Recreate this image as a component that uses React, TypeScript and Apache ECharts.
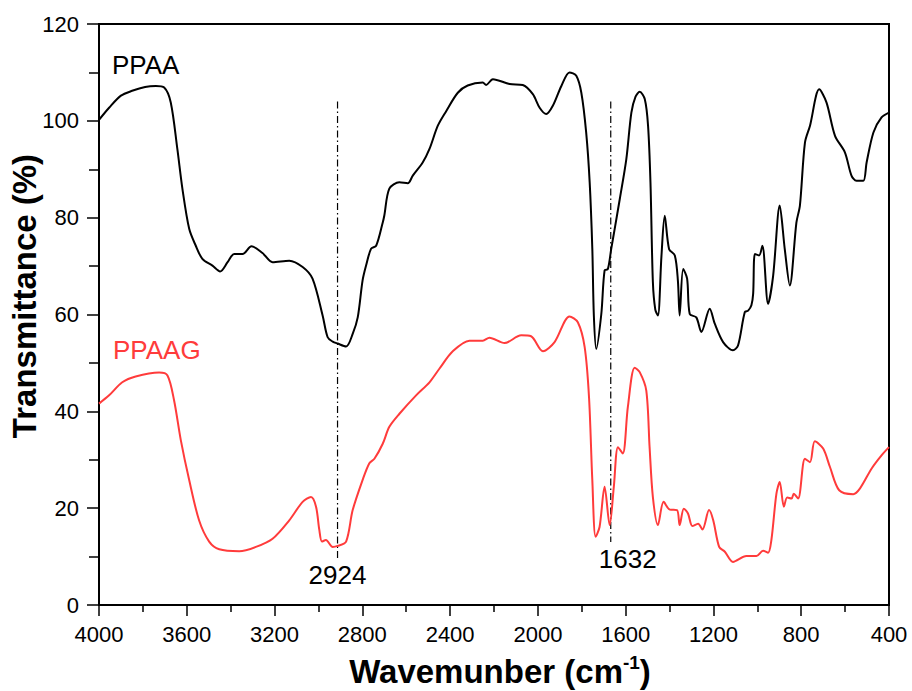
import React, { useEffect, useRef } from "react";
import * as echarts from "echarts";

// PPAA (black) — wavenumber (cm-1) and transmittance (%)
const ppaaWave = [4000, 3954, 3900, 3849, 3790, 3741, 3703, 3673, 3643, 3620, 3589, 3559, 3529, 3483, 3448, 3414, 3384, 3346, 3305, 3255, 3209, 3133, 3072, 3027, 2981, 2958, 2935, 2913, 2874, 2844, 2821, 2799, 2783, 2760, 2737, 2707, 2700, 2677, 2631, 2593, 2570, 2525, 2494, 2456, 2418, 2365, 2320, 2251, 2236, 2205, 2129, 2069, 2023, 1992, 1962, 1932, 1893, 1856, 1825, 1802, 1780, 1764, 1752, 1745, 1734, 1711, 1696, 1681, 1666, 1650, 1627, 1597, 1574, 1555, 1536, 1513, 1498, 1487, 1476, 1465, 1453, 1437, 1422, 1402, 1376, 1362, 1354, 1338, 1320, 1308, 1278, 1255, 1217, 1194, 1156, 1111, 1088, 1057, 1042, 1027, 1019, 1011, 992, 977, 951, 928, 898, 875, 852, 822, 806, 783, 760, 718, 685, 646, 601, 571, 548, 517, 502, 471, 434, 400];
const ppaaT = [100.2, 102.7, 105.2, 106.2, 107.0, 107.2, 106.9, 103.8, 94.2, 86.0, 77.7, 74.2, 71.5, 70.1, 68.9, 70.8, 72.5, 72.5, 74.1, 72.7, 70.8, 71.1, 69.8, 67.4, 59.8, 55.3, 54.4, 54.0, 53.4, 56.0, 59.4, 67.0, 70.1, 73.6, 74.2, 79.0, 80.4, 86.0, 87.3, 87.1, 88.7, 91.4, 94.2, 99.0, 102.0, 105.8, 107.3, 107.9, 107.4, 108.6, 107.6, 107.4, 105.5, 102.7, 101.4, 103.1, 107.2, 110.0, 109.3, 105.8, 97.6, 87.3, 73.6, 59.8, 52.9, 60.1, 69.1, 69.4, 73.5, 77.7, 83.8, 92.1, 101.7, 105.0, 106.0, 104.5, 99.0, 87.3, 66.7, 61.0, 59.8, 72.0, 80.4, 73.5, 72.2, 67.0, 59.8, 69.4, 67.4, 60.1, 59.4, 56.4, 61.2, 58.1, 54.3, 52.6, 53.6, 60.5, 60.8, 61.9, 64.3, 72.5, 72.2, 74.2, 62.2, 68.0, 82.5, 73.5, 66.0, 79.0, 82.5, 95.5, 99.0, 106.5, 103.8, 96.9, 93.5, 88.7, 87.6, 87.6, 91.4, 97.6, 100.7, 101.7];

// PPAAG (red)
const ppaagWave = [4000, 3954, 3894, 3833, 3726, 3688, 3658, 3627, 3589, 3544, 3498, 3452, 3361, 3285, 3209, 3133, 3072, 3034, 3011, 2996, 2984, 2966, 2935, 2913, 2874, 2844, 2799, 2768, 2745, 2707, 2677, 2631, 2555, 2494, 2449, 2388, 2312, 2251, 2221, 2152, 2076, 2031, 1977, 1924, 1856, 1818, 1787, 1767, 1752, 1737, 1719, 1696, 1673, 1654, 1635, 1613, 1590, 1559, 1536, 1506, 1491, 1476, 1453, 1427, 1399, 1366, 1354, 1335, 1316, 1296, 1270, 1250, 1220, 1201, 1174, 1148, 1111, 1050, 1004, 974, 951, 936, 913, 898, 879, 864, 844, 834, 814, 783, 760, 738, 700, 669, 627, 563, 532, 479, 434, 400];
const ppaagT = [41.6, 43.3, 46.0, 47.2, 48.0, 47.4, 42.3, 34.0, 25.8, 17.5, 13.1, 11.5, 11.1, 12.0, 13.7, 17.5, 21.3, 22.3, 20.3, 15.5, 13.1, 13.4, 12.0, 12.2, 13.1, 19.6, 25.8, 29.3, 30.2, 33.3, 36.8, 39.5, 43.3, 46.0, 48.8, 52.4, 54.6, 54.6, 55.2, 54.1, 55.7, 55.5, 52.4, 54.3, 59.6, 58.4, 53.3, 42.9, 25.8, 14.1, 16.1, 24.4, 16.5, 24.4, 32.6, 31.3, 40.9, 49.0, 48.1, 44.3, 32.6, 22.3, 16.5, 21.3, 19.7, 19.6, 16.5, 19.9, 18.9, 16.3, 16.8, 15.6, 19.6, 17.5, 12.0, 11.0, 8.9, 10.1, 10.1, 11.2, 10.8, 13.4, 23.0, 25.4, 20.3, 22.2, 22.0, 23.0, 22.0, 30.2, 29.5, 33.8, 32.3, 28.5, 23.7, 22.9, 24.1, 28.2, 30.9, 32.6];

// Marker lines
const markerWave = [2913, 1668];
const markerTop = [104, 104];
const markerBottom = [9.7, 13.0];
const markerLabels = ["2924", "1632"];

const xTickMin = 400;
const xTickMax = 4000;
const yTickMin = 0;
const yTickMax = 120;

const FONT = 'Arial, "Liberation Sans", Helvetica, sans-serif';

export default function App() {
  const ref = useRef<HTMLDivElement>(null);
  useEffect(() => {
    if (!ref.current) return;
    const chart = echarts.init(ref.current, null, { renderer: "svg" });
    const zip = (xs: number[], ys: number[]) => xs.map((x, i) => [x, ys[i]]);
    const markerSeries = markerWave.map((w, i) => ({
      type: "line",
      data: [[w, markerTop[i]], [w, markerBottom[i]]],
      symbol: "none",
      silent: true,
      lineStyle: { color: "#000", width: 1.2, type: [7, 3, 1.5, 3] },
      label: { show: false },
      z: 1,
    }));
    const markerLabelSeries = {
      type: "scatter",
      symbolSize: 0,
      silent: true,
      itemStyle: { color: "#000" },
      data: markerWave.map((w, i) => ({
        value: [w, markerBottom[i]],
        label: {
          show: true,
          position: "bottom",
          distance: 4,
          offset: i === 1 ? [17, 0] : [0, 0],
          formatter: markerLabels[i],
          color: "#000",
          opacity: 1,
          textBorderWidth: 0,
          fontSize: 26,
          fontFamily: FONT,
        },
      })),
    };
    chart.setOption({
      animation: false,
      backgroundColor: "#fff",
      grid: {
        left: 99,
        right: 23,
        top: 24,
        bottom: 86,
        show: true,
        borderColor: "#000",
        borderWidth: 2,
        backgroundColor: "transparent",
      },
      xAxis: {
        type: "value",
        inverse: true,
        min: xTickMin,
        max: xTickMax,
        interval: 400,
        axisLine: { show: true, onZero: false, lineStyle: { color: "#000", width: 2 } },
        axisTick: { show: true, inside: false, length: 11, lineStyle: { color: "#000", width: 1.5 } },
        minorTick: { show: true, splitNumber: 2, length: 7, lineStyle: { color: "#000", width: 1.5 } },
        splitLine: { show: false },
        axisLabel: { color: "#000", fontSize: 22, fontFamily: FONT, margin: 18, formatter: (v: number) => String(v) },
      },
      yAxis: {
        type: "value",
        min: yTickMin,
        max: yTickMax,
        interval: 20,
        axisLine: { show: true, onZero: false, lineStyle: { color: "#000", width: 2 } },
        axisTick: { show: true, inside: false, length: 12, lineStyle: { color: "#000", width: 1.5 } },
        minorTick: { show: true, splitNumber: 2, length: 10, lineStyle: { color: "#000", width: 1.5 } },
        splitLine: { show: false },
        axisLabel: { color: "#000", fontSize: 22, fontFamily: FONT, margin: 20, formatter: (v: number) => String(v) },
      },
      series: [
        {
          name: "PPAA",
          type: "line",
          data: zip(ppaaWave, ppaaT),
          symbol: "none",
          smooth: 0.3,
          lineStyle: { color: "#000", width: 2 },
          z: 3,
        },
        {
          name: "PPAAG",
          type: "line",
          data: zip(ppaagWave, ppaagT),
          symbol: "none",
          smooth: 0.3,
          lineStyle: { color: "#ff3b3b", width: 2 },
          z: 3,
        },
        ...markerSeries,
        markerLabelSeries,
      ],
      graphic: [
        {
          type: "text",
          left: 112,
          top: 52,
          style: { text: "PPAA", fill: "#000", font: `26px ${FONT}` },
        },
        {
          type: "text",
          left: 113,
          top: 337,
          style: { text: "PPAAG", fill: "#ff3b3b", font: `26px ${FONT}` },
        },
        {
          type: "text",
          x: 24,
          y: 296,
          rotation: Math.PI / 2,
          style: {
            text: "Transmittance (%)",
            fill: "#000",
            font: `bold 33px ${FONT}`,
            align: "center",
            verticalAlign: "middle",
          },
        },
        {
          type: "text",
          x: 500,
          y: 671,
          style: {
            text: "{a|Wavemunber (cm}{s|-1}{a|)}",
            align: "center",
            verticalAlign: "middle",
            rich: {
              a: { fontSize: 33, fontWeight: "bold", fontFamily: FONT, fill: "#000", lineHeight: 36 },
              s: { fontSize: 19, fontWeight: "bold", fontFamily: FONT, fill: "#000", verticalAlign: "top", lineHeight: 20 },
            },
          },
        },
      ],
    });
    return () => chart.dispose();
  }, []);
  return <div ref={ref} style={{ width: 912, height: 691, position: "absolute", left: 0, top: 0 }} />;
}
